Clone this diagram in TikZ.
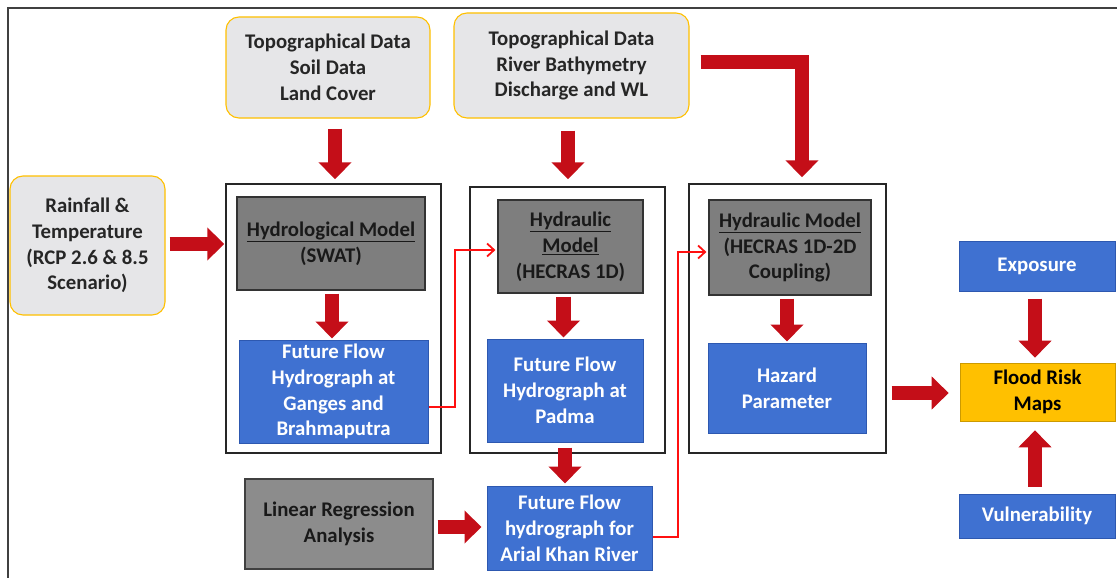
\documentclass[tikz,border=0pt]{standalone}
\usepackage{fontspec}
\setmainfont{Carlito}
\usetikzlibrary{arrows.meta,calc}
\definecolor{arrred}{HTML}{C40E18}
\definecolor{thinred}{HTML}{FF1010}
\definecolor{inpfill}{HTML}{E6E6E8}
\definecolor{inpdraw}{HTML}{FFC000}
\definecolor{bluefill}{HTML}{3F71D1}
\definecolor{bluedraw}{HTML}{2D58B0}
\definecolor{grayfill}{HTML}{7E7E7E}
\definecolor{lrfill}{HTML}{8C8C8C}
\definecolor{floodfill}{HTML}{FFC000}
\tikzset{
  txt/.style={font=\fontsize{20.8}{25.8}\selectfont\bfseries, align=center, inner sep=0pt},
  inputbox/.style={txt, rectangle, rounded corners=13pt, fill=inpfill, draw=inpdraw, line width=1.1pt, text=black!85},
  container/.style={rectangle, draw=black!85, line width=1.4pt, fill=white, inner sep=0pt},
  graybox/.style={txt, rectangle, fill=grayfill, draw=black!80, line width=1.2pt, text=black!90},
  lrbox/.style={txt, rectangle, fill=lrfill, draw=black!75, line width=1.2pt, text=black!90},
  bluebox/.style={txt, rectangle, fill=bluefill, draw=bluedraw, line width=1pt, text=white},
  floodbox/.style={txt, rectangle, fill=floodfill, draw=floodfill!80!black, line width=0.6pt, text=black},
  bigarrow/.style={draw=arrred, line width=14.5pt, -{Triangle[length=17pt,width=32pt]}},
  thinarrow/.style={draw=thinred, line width=1.8pt, -{Straight Barb[length=7pt,width=13pt]}}
}
\begin{document}
\begin{tikzpicture}[x=1pt,y=-1pt]
\useasboundingbox (0,0) rectangle (1117,578);
\fill[white] (0,0) rectangle (1117,578);
% outer frame
\coordinate (fbl) at (8,580);
\coordinate (ftl) at (8,8);
\coordinate (ftr) at (1120,8);
\draw[black!75, line width=2pt] (fbl) -- (ftl) -- (ftr);

% containers
\node[container, minimum width=215pt, minimum height=269pt] (c1) at (333.5,318.5) {};
\node[container, minimum width=195pt, minimum height=266pt] (c2) at (567.5,320) {};
\node[container, minimum width=197pt, minimum height=269pt] (c3) at (787.5,318.5) {};

% inputs
\node[inputbox, minimum width=204pt, minimum height=101pt] (A) at (328,67.5) {Topographical Data\\Soil Data\\Land Cover};
\node[inputbox, minimum width=235pt, minimum height=105pt] (B) at (571.5,65.5) {Topographical Data\\River Bathymetry\\Discharge and WL};
\node[inputbox, minimum width=155pt, minimum height=139pt] (C) at (87.5,245.5) {Rainfall \&\\Temperature\\(RCP 2.6 \& 8.5\\Scenario)};

% models
\node[graybox, minimum width=188pt, minimum height=93pt] (g1) at (331,243.5) {\underline{Hydrological Model}\\(SWAT)};
\node[graybox, minimum width=145pt, minimum height=93pt] (g2) at (570.5,246.5) {\underline{Hydraulic}\\\underline{Model}\\(HECRAS 1D)};
\node[graybox, minimum width=162pt, minimum height=95pt] (g3) at (790,247.5) {\underline{Hydraulic Model}\\(HECRAS 1D-2D\\Coupling)};

% outputs
\node[bluebox, minimum width=189pt, minimum height=103pt] (b1) at (333.5,391.5) {Future Flow\\Hydrograph at\\Ganges and\\Brahmaputra};
\node[bluebox, minimum width=156pt, minimum height=103pt] (b2) at (565,390.5) {Future Flow\\Hydrograph at\\Padma};
\node[bluebox, minimum width=158pt, minimum height=90pt] (b3) at (787,388) {Hazard\\Parameter};
\node[bluebox, minimum width=165pt, minimum height=84pt] (b4) at (569.5,528) {Future Flow\\hydrograph for\\Arial Khan River};
\node[lrbox, minimum width=188pt, minimum height=90pt] (lr) at (339,524) {Linear Regression\\Analysis};

% risk
\node[bluebox, minimum width=156pt, minimum height=50pt] (ex) at (1037,266) {Exposure};
\node[floodbox, minimum width=155pt, minimum height=58pt] (fr) at (1037.5,392) {Flood Risk\\Maps};
\node[bluebox, minimum width=156pt, minimum height=44pt] (vu) at (1037,516) {Vulnerability};

% big arrows
\draw[bigarrow] ($(A.south)+(7,10)$) -- ($(c1.north)+(1.5,-4)$);
\draw[bigarrow] ($(B.south)+(-3.5,12)$) -- ($(c2.north)+(0.5,-7)$);
\draw[bigarrow] ($(B.east)+(11,-3.5)$) -| ($(c3.north)+(14.5,-6)$);
\draw[bigarrow] ($(C.east)+(4,-1.5)$) -- ($(c1.west)+(-1,-74.5)$);
\draw[bigarrow] ($(g1.south)+(1,3)$) -- ($(b1.north)+(-1.5,-1)$);
\draw[bigarrow] ($(g2.south)+(-7,3)$) -- ($(b2.north)+(-1.5,-1)$);
\draw[bigarrow] ($(b2.south)+(0,5)$) -- ($(b4.north)+(-4.5,-2)$);
\draw[bigarrow] ($(lr.east)+(4,3)$) -- ($(b4.west)+(-5,-1)$);
\draw[bigarrow] ($(g3.south)+(-3,3)$) -- ($(b3.north)+(0,-1)$);
\draw[bigarrow] ($(c3.east)+(5,74.5)$) -- ($(fr.west)+(-11,1)$);
\draw[bigarrow] ($(ex.south)+(-2,7)$) -- ($(fr.north)+(-2.5,-5)$);
\draw[bigarrow] ($(vu.north)+(-2,-7)$) -- ($(fr.south)+(-2.5,9)$);

% thin red links
\coordinate (k1) at (455,0);
\coordinate (k2) at (678,0);
\draw[thinarrow] ($(b1.east)+(0,15.5)$) -| ($(k1 |- g2.west)+(0,3.5)$) -- ($(g2.west)+(-2,3.5)$);
\draw[thinarrow] ($(b4.east)+(0,9)$) -| ($(k2 |- g3.west)+(0,4.5)$) -- ($(g3.west)+(-2,4.5)$);
\end{tikzpicture}
\end{document}
